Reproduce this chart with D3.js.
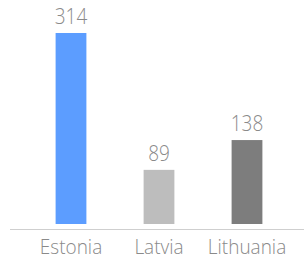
<!DOCTYPE html>
<html>
<head>
<meta charset="utf-8">
<script src="https://cdn.jsdelivr.net/npm/d3@7"></script>
<style>
  body { margin: 0; background: #fff; }
  text { font-family: "Open Sans", sans-serif; font-weight: 300; fill: #8a8a8a; }
</style>
</head>
<body>
<script>
// data
var countries = ["Estonia", "Latvia", "Lithuania"];
var values = [314, 89, 138];
var colors = ["#5c9dff", "#bdbdbd", "#7d7d7d"];

var width = 304, height = 262;

var svg = d3.select("body").append("svg")
    .attr("width", width)
    .attr("height", height);

var x = d3.scaleBand()
    .domain(countries)
    .range([27, 291])
    .paddingInner(0.65)
    .paddingOuter(0.325);

var y = d3.scaleLinear()
    .domain([0, 314])
    .range([224, 33]);

// bars
svg.selectAll(".bar").data(values)
    .enter().append("rect")
    .attr("class", "bar")
    .attr("x", function(d, i){ return x(countries[i]); })
    .attr("width", x.bandwidth())
    .attr("y", function(d){ return y(d); })
    .attr("height", function(d){ return y(0) - y(d); })
    .attr("fill", function(d, i){ return colors[i]; });

// value labels
svg.selectAll(".val").data(values)
    .enter().append("text")
    .attr("class", "val")
    .attr("text-anchor", "middle")
    .attr("font-size", 19)
    .attr("transform", function(d, i){
        return "translate(" + (x(countries[i]) + x.bandwidth() / 2) + "," + (y(d) - 9) + ") scale(1,1.2)";
    })
    .text(function(d){ return d; });

// x axis line
svg.append("line")
    .attr("x1", 10).attr("x2", 304)
    .attr("y1", 229.5).attr("y2", 229.5)
    .attr("stroke", "#cfcfcf");

// category labels
svg.selectAll(".cat").data(countries)
    .enter().append("text")
    .attr("class", "cat")
    .attr("text-anchor", "middle")
    .attr("font-size", 19)
    .attr("transform", function(d){
        return "translate(" + (x(d) + x.bandwidth() / 2) + ",254) scale(1,1.1)";
    })
    .text(function(d){ return d; });
</script>
</body>
</html>
